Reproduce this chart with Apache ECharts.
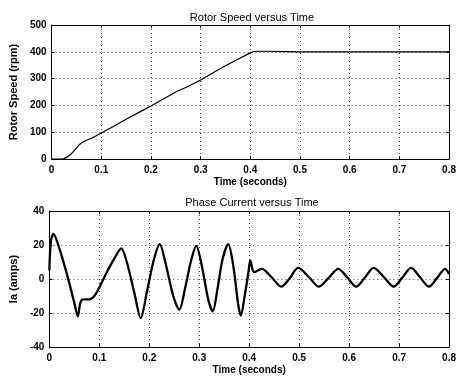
<!DOCTYPE html>
<html><head><meta charset="utf-8">
<script src="https://cdn.jsdelivr.net/npm/echarts@6/dist/echarts.min.js"></script>
<style>html,body{margin:0;padding:0;background:#fff}#c{width:459px;height:376px}</style>
</head><body><div id="c"></div>
<script>
// Rotor speed (rpm) vs time (s)
var speedT = [0, 0.02, 0.025, 0.03, 0.035, 0.04, 0.045, 0.05, 0.055, 0.06, 0.065, 0.07, 0.08, 0.1, 0.15, 0.2, 0.25, 0.27, 0.3, 0.35, 0.4, 0.405, 0.41, 0.44, 0.5, 0.6, 0.7, 0.8];
var speedV = [0, 0, 2, 6, 12, 20, 30, 41, 52, 60, 65, 70, 77, 97, 148, 198, 250, 267, 295, 348, 396, 400, 402, 402, 400, 400, 400, 400];
// Phase current Ia (amps) vs time (s)
var curT = [0, 0.003, 0.008, 0.02, 0.035, 0.05, 0.057, 0.062, 0.068, 0.08, 0.09, 0.1, 0.115, 0.13, 0.144, 0.155, 0.17, 0.183, 0.195, 0.208, 0.221, 0.232, 0.248, 0.26, 0.272, 0.283, 0.294, 0.305, 0.318, 0.327, 0.337, 0.347, 0.358, 0.368, 0.378, 0.383, 0.392, 0.399, 0.402, 0.41, 0.425, 0.445, 0.464, 0.48, 0.498, 0.52, 0.539, 0.56, 0.578, 0.596, 0.614, 0.632, 0.649, 0.67, 0.689, 0.707, 0.724, 0.742, 0.76, 0.777, 0.792, 0.8];
var curV = [5, 22, 26.5, 18, 3, -14, -22, -14, -12, -12, -10, -5, 4, 12, 18, 10, -8, -23, -8, 10, 20.5, 10, -10, -18, -5, 10, 19.5, 8, -12, -19, -5, 12, 20.5, 8, -15, -21.5, -8, 5, 11, 4, 6, 1, -4.5, 0, 6.5, 1, -4.5, 1, 6, 1, -4.5, 1, 6.5, 1, -4.5, 1, 6.5, 1, -4.5, 1, 6, 3];
var xTicks = [0, 0.1, 0.2, 0.3, 0.4, 0.5, 0.6, 0.7, 0.8];
var speedTicks = [0, 100, 200, 300, 400, 500];
var curTicks = [-40, -20, 0, 20, 40];

var chart = echarts.init(document.getElementById('c'));
var F = 'Liberation Sans, Arial, sans-serif';
var lab = {color:'#000', fontFamily:F, fontSize:10, fontWeight:'bold'};
var split = {show:true, lineStyle:{color:'#444', type:[1,3], width:1}};
function xAx(gi, show){
  return {type:'value', gridIndex:gi, min:0, max:0.8, interval:0.1, position: show?'bottom':'top',
    axisLine:{show:true, onZero:false, lineStyle:{color:'#000'}},
    axisTick:{show:true, inside:true, length:3, lineStyle:{color:'#000'}},
    axisLabel:{show:show, margin:6, ...lab, formatter:function(v){return +v.toFixed(1)+'';}},
    splitLine: show?split:{show:false},
    name: show?'Time (seconds)':'', nameLocation:'middle', nameGap:18,
    nameTextStyle:{color:'#000', fontFamily:F, fontSize:10, fontWeight:'bold'}};
}
function yAx(gi, show, mn, mx, iv, nm, gap){
  return {type:'value', gridIndex:gi, min:mn, max:mx, interval:iv, position: show?'left':'right',
    axisLine:{show:true, onZero:false, lineStyle:{color:'#000'}},
    axisTick:{show:true, inside:true, length:3, lineStyle:{color:'#000'}},
    axisLabel:{show:show, margin:5, ...lab},
    splitLine: show?split:{show:false},
    name: show?nm:'', nameLocation:'middle', nameGap:gap,
    nameTextStyle:{color:'#000', fontFamily:F, fontSize:11, fontWeight:'bold'}};
}
chart.setOption({
  animation:false,
  backgroundColor:'#fff',
  title:[
    {text:'Rotor Speed versus Time', left:247, top:7, textAlign:'center', textStyle:{color:'#000', fontFamily:F, fontSize:11, fontWeight:'normal'}},
    {text:'Phase Current versus Time', left:247, top:192, textAlign:'center', textStyle:{color:'#000', fontFamily:F, fontSize:11, fontWeight:'normal'}}
  ],
  grid:[
    {left:43, right:7, top:25, height:134},
    {left:43, right:7, top:211, height:136}
  ],
  xAxis:[xAx(0,true), xAx(0,false), xAx(1,true), xAx(1,false)],
  yAxis:[yAx(0,true,0,500,100,'Rotor Speed (rpm)',26), yAx(0,false,0,500,100,'',0),
         yAx(1,true,-40,40,20,'Ia (amps)',26), yAx(1,false,-40,40,20,'',0)],
  series:[
    {type:'line', xAxisIndex:0, yAxisIndex:0, showSymbol:false, smooth:0.1,
     data: speedT.map(function(t,i){return [t, speedV[i]];}),
     lineStyle:{color:'#000', width:1.2}},
    {type:'line', xAxisIndex:2, yAxisIndex:2, showSymbol:false, smooth:0.3,
     data: curT.map(function(t,i){return [t, curV[i]];}),
     lineStyle:{color:'#000', width:2.3}}
  ]
});
</script></body></html>
